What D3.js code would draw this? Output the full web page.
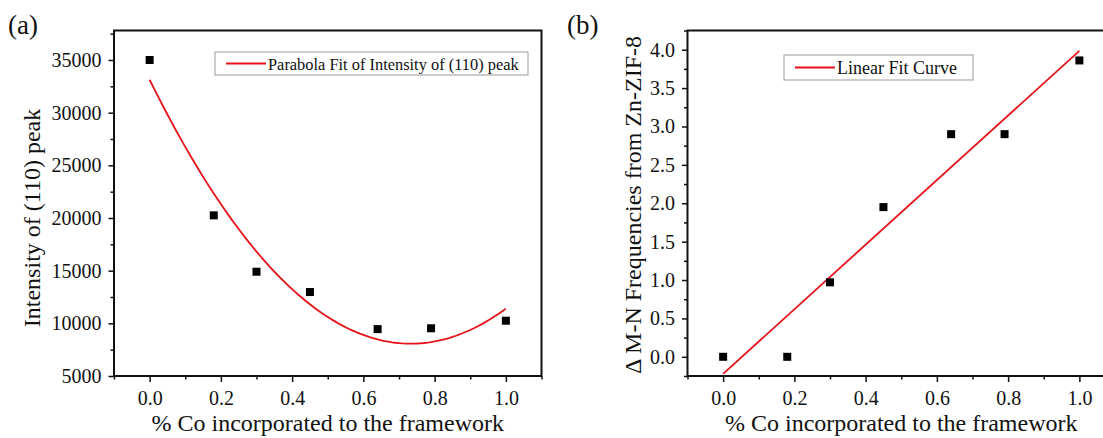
<!DOCTYPE html>
<html>
<head>
<meta charset="utf-8">
<script src="https://cdn.jsdelivr.net/npm/d3@7"></script>
<style>
  body { margin: 0; background: #fff; }
  svg text { font-family: 'Liberation Serif', 'DejaVu Serif', serif; fill: #111; }
</style>
</head>
<body>
<svg id="chart" width="1103" height="438"></svg>
<script>
// values
var coFraction = [0, 0.18, 0.3, 0.45, 0.64, 0.79, 1.0];
var peakIntensity = [35000, 20250, 14900, 12970, 9450, 9530, 10250];
var shiftMN = [0, 0, 0.97, 1.95, 2.9, 2.9, 3.86];

// parabola fit as drawn: c0 + c1*x + c2*x^2
var parabolaCoef = [33125, -68360, 46630];

var xMajor = [0, 0.2, 0.4, 0.6, 0.8, 1.0];
var xMinor = [-0.1, 0.1, 0.3, 0.5, 0.7, 0.9, 1.1];
var yMajorA = [5000, 10000, 15000, 20000, 25000, 30000, 35000];
var yMinorA = [7500, 12500, 17500, 22500, 27500, 32500, 37500];
var yMajorB = [0, 0.5, 1, 1.5, 2, 2.5, 3, 3.5, 4];
var yMinorB = [-0.25, 0.25, 0.75, 1.25, 1.75, 2.25, 2.75, 3.25, 3.75, 4.25];

var svg = d3.select('#chart');
var red = '#e6121a';
var serif = "'Liberation Serif', 'DejaVu Serif', serif";

function linearFit(xs, ys) {
	var n = xs.length,
		mx = d3.mean(xs),
		my = d3.mean(ys),
		sxy = 0, sxx = 0;
	for (var i = 0; i < n; i++) {
		sxy += (xs[i] - mx) * (ys[i] - my);
		sxx += (xs[i] - mx) * (xs[i] - mx);
	}
	var slope = sxy / sxx;
	return { slope: slope, icpt: my - slope * mx };
}

function panel(opt) {
	var g = svg.append('g');

	var x = d3.scaleLinear().domain([-0.1, 1.1]).range([opt.left, opt.left + 427.5]);
	var y = d3.scaleLinear().domain(opt.yDomain).range([376, 30.5]);

	// minor ticks first, then major with labels
	g.append('g')
		.attr('transform', 'translate(0,' + y.range()[0] + ')')
		.call(d3.axisBottom(x).tickValues(xMinor).tickSize(3.5).tickFormat(''));
	g.append('g')
		.attr('transform', 'translate(0,' + y.range()[0] + ')')
		.call(d3.axisBottom(x).tickValues(xMajor).tickSize(6).tickPadding(9)
			.tickFormat(d3.format('.1f')));

	g.append('g')
		.attr('transform', 'translate(' + x.range()[0] + ',0)')
		.call(d3.axisLeft(y).tickValues(opt.yMinor).tickSize(3.5).tickFormat(''));
	g.append('g')
		.attr('transform', 'translate(' + x.range()[0] + ',0)')
		.call(d3.axisLeft(y).tickValues(opt.yMajor).tickSize(5.5).tickPadding(7)
			.tickFormat(opt.yFormat));

	g.selectAll('.domain').remove();
	g.selectAll('g').attr('font-family', serif);
	g.selectAll('.tick line').style('stroke', '#111').style('stroke-width', 1.5);
	g.selectAll('.tick text').style('font-size', '20px').style('font-family', serif);

	// frame
	g.append('rect')
		.attr('x', x.range()[0])
		.attr('y', y.range()[1])
		.attr('width', x.range()[1] - x.range()[0])
		.attr('height', y.range()[0] - y.range()[1])
		.style('fill', 'none')
		.style('stroke', '#111')
		.style('stroke-width', 2);

	// fit line
	g.append('path')
		.datum(opt.fit)
		.attr('d', d3.line().x(function(d) { return x(d[0]); }).y(function(d) { return y(d[1]); }))
		.style('fill', 'none')
		.style('stroke', red)
		.style('stroke-width', 1.8);

	// points
	g.selectAll('rect.pt')
		.data(coFraction.map(function(c, i) { return [c, opt.values[i]]; }))
		.enter().append('rect')
		.attr('class', 'pt')
		.attr('x', function(d) { return x(d[0]) - 4; })
		.attr('y', function(d) { return y(d[1]) - 4; })
		.attr('width', 8)
		.attr('height', 8)
		.style('fill', '#000');

	// legend
	var lg = opt.legend;
	g.append('rect')
		.attr('x', lg.x).attr('y', lg.y)
		.attr('width', lg.w).attr('height', lg.h)
		.style('fill', '#fff')
		.style('stroke', '#9a9a9a')
		.style('stroke-width', 1);
	g.append('line')
		.attr('x1', lg.x + 11).attr('x2', lg.x + 51)
		.attr('y1', lg.y + lg.h / 2).attr('y2', lg.y + lg.h / 2)
		.style('stroke', red)
		.style('stroke-width', 1.8);
	g.append('text')
		.attr('x', lg.x + 53)
		.attr('y', lg.y + lg.h / 2 + 6)
		.style('font-size', lg.size)
		.style('font-family', serif)
		.text(lg.text);

	// axis titles
	g.append('text')
		.attr('x', (x.range()[0] + x.range()[1]) / 2)
		.attr('y', 431)
		.attr('text-anchor', 'middle')
		.style('font-size', '24px')
		.style('font-family', serif)
		.text('% Co incorporated to the framework');
	g.append('text')
		.attr('transform', 'translate(' + opt.titleX + ',' + opt.titleY + ') rotate(-90)')
		.attr('text-anchor', 'middle')
		.style('font-size', '24px')
		.style('font-family', serif)
		.text(opt.yTitle);

	svg.append('text')
		.attr('x', opt.labelX)
		.attr('y', 34)
		.style('font-size', '27px')
		.style('font-family', serif)
		.text(opt.label);
}

var parabola = d3.range(0, 1.0001, 0.01).map(function(c) {
	return [c, parabolaCoef[0] + parabolaCoef[1] * c + parabolaCoef[2] * c * c];
});

var lf = linearFit(coFraction, shiftMN);
var linFit = [0, 1].map(function(c) { return [c, lf.icpt + lf.slope * c]; });

panel({
	left: 114,
	yDomain: [5000, 37800],
	yMajor: yMajorA,
	yMinor: yMinorA,
	yFormat: d3.format('d'),
	values: peakIntensity,
	fit: parabola,
	legend: { x: 215, y: 52, w: 313, h: 23, size: '16.4px', text: 'Parabola Fit of Intensity of (110) peak' },
	yTitle: 'Intensity of (110) peak',
	titleX: 40,
	titleY: 218,
	label: '(a)',
	labelX: 8
});

panel({
	left: 687.5,
	yDomain: [-0.25, 4.25],
	yMajor: yMajorB,
	yMinor: yMinorB,
	yFormat: d3.format('.1f'),
	values: shiftMN,
	fit: linFit,
	legend: { x: 784, y: 55, w: 189, h: 25, size: '18px', text: 'Linear Fit Curve' },
	yTitle: '\u0394 M-N Frequencies from Zn-ZIF-8',
	titleX: 641,
	titleY: 205,
	label: '(b)',
	labelX: 567
});
</script>
</body>
</html>
